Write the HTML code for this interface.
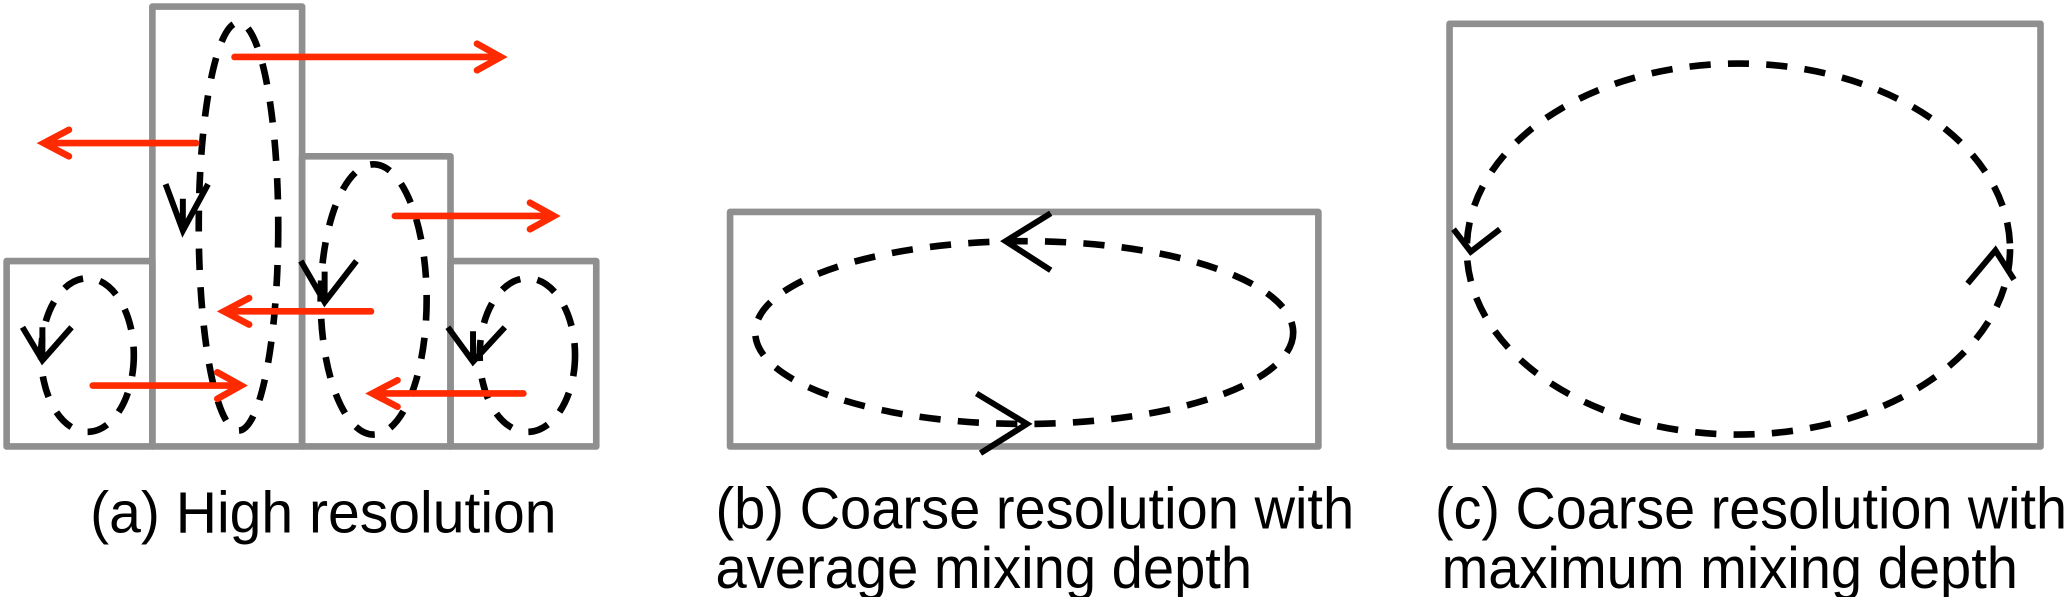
<!DOCTYPE html>
<html><head><meta charset="utf-8"><style>html,body{margin:0;padding:0;background:#fff;}svg{display:block}</style></head>
<body>
<svg width="2067" height="597" viewBox="0 0 1560 450.6" preserveAspectRatio="none" xmlns="http://www.w3.org/2000/svg">
<g fill="none" stroke="#8f8f8f" stroke-width="5" stroke-linejoin="round">
<rect x="5" y="197" width="110" height="140"/>
<rect x="115" y="5" width="113" height="332"/>
<rect x="228" y="118" width="112" height="219"/>
<rect x="340" y="197" width="110" height="140"/>
<rect x="551" y="160" width="444" height="177"/>
<rect x="1094" y="18" width="446" height="319"/>
</g>
<g fill="none" stroke="#000" stroke-width="5" stroke-dasharray="16 13">
<ellipse cx="66" cy="268" rx="35" ry="58"/>
<ellipse cx="180" cy="171" rx="30" ry="154"/>
<ellipse cx="282" cy="226" rx="40" ry="102"/>
<ellipse cx="398" cy="268" rx="36" ry="58"/>
<ellipse cx="773" cy="251" rx="203" ry="69"/>
<ellipse cx="1312" cy="188" rx="205" ry="140"/>
</g>
<g fill="none" stroke="#000" stroke-width="4.5" stroke-linecap="butt">
<path d="M17 247 L32 272 L54 247 M32 247 V272"/>
<path d="M125 139 L138 174 L157 139 M138 150 V174"/>
<path d="M227 197 L245 228 L269 197 M245 205 V228"/>
<path d="M338 247 L357 273 L381 247 M357 250 V273"/>
<path d="M793 161 L759 182 L793 204"/>
<path d="M737 297 L775 320 L740 342"/>
<path d="M1097 173 L1110 190 L1132 173"/>
<path d="M1485 214 L1506 189 L1520 211"/>
</g>
<g fill="none" stroke="#ff2a00" stroke-width="5" stroke-linecap="round">
<path d="M177 43 H376 M360 33 L378 43 L360 53" />
<path d="M148 108 H34 M52 98 L33 108 L52 118"/>
<path d="M298 163 H416 M400 153 L418 163 L400 173"/>
<path d="M280 235 H170 M188 225 L169 235 L188 245"/>
<path d="M70 291 H180 M164 281 L182 291 L164 301"/>
<path d="M395 297 H282 M300 287 L281 297 L300 307"/>
</g>
<g font-family="Liberation Sans, Arial, sans-serif" font-size="44" fill="#000">
<text x="68" y="402" textLength="352" lengthAdjust="spacingAndGlyphs">(a)  High resolution</text>
<text x="540" y="399" textLength="482" lengthAdjust="spacingAndGlyphs">(b) Coarse resolution with</text>
<text x="540" y="444" textLength="405" lengthAdjust="spacingAndGlyphs">average mixing depth</text>
<text x="1083" y="399" textLength="477" lengthAdjust="spacingAndGlyphs">(c) Coarse resolution with</text>
<text x="1088" y="444" textLength="435" lengthAdjust="spacingAndGlyphs">maximum mixing depth</text>
</g>
</svg>
</body></html>
